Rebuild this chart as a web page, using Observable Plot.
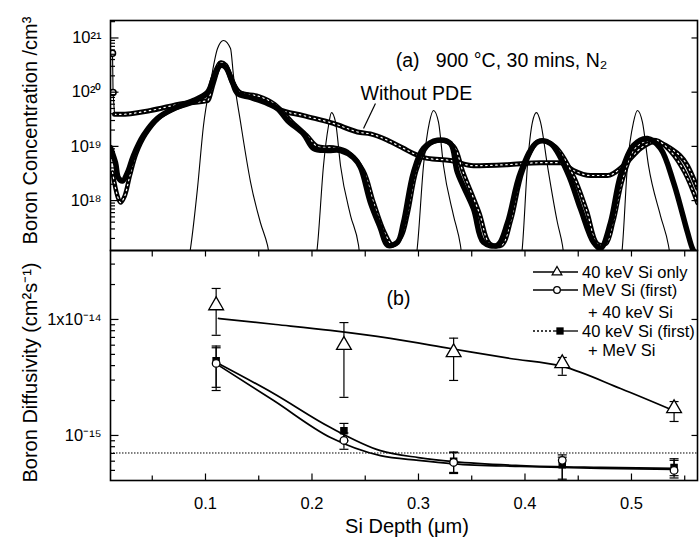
<!DOCTYPE html>
<html><head><meta charset="utf-8">
<script src="https://cdn.jsdelivr.net/npm/d3@7"></script>
<script src="https://cdn.jsdelivr.net/npm/@observablehq/plot@0.6"></script>
<style>
body{margin:0;background:#fff;}
#chart{position:relative;width:700px;height:548px;font-family:"Liberation Sans",Arial,sans-serif;background:#fff;}
#chart svg{display:block;overflow:visible;}
#legend{position:absolute;left:0;top:0;pointer-events:none;}
</style></head><body><div id="chart"></div>
<script>
// ---------- Panel (a): boron concentration profiles ----------
const implDepth = [0.080,0.0859,0.0925,0.0981,0.1047,0.1113,0.1169,0.1235,0.1263,0.1329,0.1423,0.1516,0.1582,0.163,
  0.200,0.2052,0.2108,0.2155,0.2183,0.2221,0.2268,0.2362,0.2437,0.248,
  0.294,0.2991,0.3047,0.3103,0.3141,0.3188,0.3235,0.3329,0.3394,0.344,
  0.393,0.3977,0.4023,0.4070,0.4108,0.4146,0.4211,0.4305,0.4352,0.440,
  0.487,0.4916,0.4962,0.5019,0.5056,0.5103,0.5160,0.5272,0.5347,0.540];
const implConc = [3e16,1.3e17,1.7e18,2.4e19,1.5e20,6.4e20,9.0e20,6.4e20,2.0e20,2.8e19,2.2e18,3.9e17,1.5e17,5e16,
  3e16,1.5e17,4.4e18,2.4e19,4.2e19,2.8e19,4.4e18,5.3e17,1.5e17,3e16,
  3e16,1.5e17,4.4e18,2.8e19,4.6e19,2.8e19,4.4e18,5.3e17,1.5e17,3e16,
  3e16,1.5e17,4.4e18,2.8e19,4.2e19,2.8e19,4.4e18,3.9e17,1.5e17,3e16,
  3e16,1.5e17,4.4e18,2.8e19,4.6e19,2.8e19,4.4e18,5.3e17,1.5e17,3e16];

const pdeDepth = [0.0108,0.0155,0.0183,0.0221,0.0268,0.0324,0.0418,0.0549,0.0700,0.0887,0.1019,0.1075,0.1141,0.1188,0.1254,0.1300,0.1423,0.1582,0.1676,0.1770,0.1920,0.2014,0.2146,0.2268,0.2390,0.2455,0.2549,0.2643,0.2709,0.2803,0.2859,0.2953,0.3047,0.3178,0.3300,0.3366,0.3516,0.3610,0.3742,0.3836,0.3958,0.4117,0.4239,0.4399,0.4521,0.4643,0.4709,0.4803,0.4897,0.5019,0.5150,0.5272,0.5394,0.5526,0.5573,0.5620];
const pdeConc = [9.5e18,5.0e18,2.6e18,2.3e18,3.3e18,6.8e18,1.6e19,3.3e19,5.0e19,7.0e19,9.9e19,1.8e20,3.1e20,2.9e20,1.5e20,9.5e19,8.0e19,6.2e19,5.0e19,3.0e19,1.7e19,9.2e18,8.4e18,8.4e18,6.2e18,4.1e18,9.2e17,3.1e17,1.5e17,1.7e17,3.9e17,3.3e18,9.2e18,1.3e19,1.13e19,3.3e18,7.1e17,1.7e17,1.5e17,3.9e17,3.3e18,1.2e19,1.13e19,3.3e18,7.1e17,1.7e17,1.3e17,3.9e17,2.9e18,1.04e19,1.4e19,9.2e18,2.2e18,2.6e17,1.3e17,9e16];

const pde2Depth = [0.0127,0.0174,0.0202,0.0240,0.0290,0.0350,0.0440,0.0560,0.0700,0.0887,0.1019,0.1075,0.1141,0.1188,0.1254,0.1320,0.1500,0.1650,0.1800,0.1950,0.2050,0.2200,0.2330,0.2480,0.2580,0.2680,0.2760,0.2840,0.2900,0.2980,0.3080,0.3200,0.3330,0.3420,0.3570,0.3670,0.3780,0.3870,0.3980,0.4130,0.4280,0.4450,0.4580,0.4680,0.4760,0.4830,0.4920,0.5050,0.5230,0.5370,0.5500,0.5620];
const pde2Conc = [3.3e18,1.2e18,9.2e17,1.2e18,2.9e18,7.4e18,1.7e19,3.3e19,4.8e19,6.6e19,9.5e19,2.0e20,3.5e20,3.2e20,1.6e20,1.0e20,8.4e19,6.0e19,3.0e19,1.6e19,1.0e19,9.5e18,8.0e18,3.6e18,9e17,2.6e17,1.5e17,2.2e17,6e17,3.6e18,1.0e19,1.3e19,1.0e19,3.3e18,6e17,1.6e17,1.5e17,4.5e17,3.6e18,1.25e19,1.0e19,3.0e18,6.5e17,1.6e17,1.6e17,4.2e17,2.6e18,1.0e19,1.3e19,8.0e18,3.3e18,9e17];

const noPdeDepth = [0.0146,0.0202,0.0484,0.0793,0.1019,0.1075,0.1141,0.1188,0.1254,0.1329,0.1516,0.1610,0.1676,0.1920,0.2201,0.2455,0.2549,0.2709,0.2859,0.2953,0.3085,0.3300,0.3516,0.3836,0.4146,0.4333,0.4455,0.4615,0.4775,0.4925,0.5085,0.5207,0.5366,0.5526,0.5620];
const noPdeConc = [3.9e19,3.9e19,4.6e19,6.2e19,7.0e19,1.5e20,3.4e20,3.1e20,1.5e20,9.5e19,7.8e19,6.2e19,5.0e19,3.7e19,2.65e19,1.8e19,1.7e19,1.3e19,9.2e18,7.4e18,6.0e18,5.5e18,4.4e18,4.6e18,5.0e18,5.0e18,3.6e18,2.9e18,2.9e18,4.4e18,9.2e18,1.2e19,9.2e18,4.4e18,1.7e18];

const surfDepth = [0.0127,0.0132,0.0146];
const surfConc = [5.2e20,9.9e19,3.9e19];

const concTicks = [1e18,1e19,1e20,1e21];
const concTickLabels = ["10¹⁸","10¹⁹","10²⁰","10²¹"];

// ---------- Panel (b): boron diffusivity ----------
const peakDepth = [0.11,0.23,0.333,0.435,0.54];
const dOnly   = [1.32e-14,6.0e-15,5.2e-15,4.18e-15,1.71e-15];
const dOnlyHi = [1.85e-14,9.4e-15,6.9e-15,4.7e-15,1.96e-15];
const dOnlyLo = [7.3e-15,2.13e-15,2.98e-15,3.3e-15,1.32e-15];
const dMeV    = [4.18e-15,9.06e-16,5.85e-16,6.1e-16,5.0e-16];
const dMeVHi  = [5.7e-15,1.05e-15,7.1e-16,6.5e-16,6.1e-16];
const dMeVLo  = [2.44e-15,7.6e-16,4.7e-16,4.2e-16,4.3e-16];
const dFirst  = [4.4e-15,1.1e-15,6.0e-16,5.6e-16,5.3e-16];
const dFirstHi= [5.9e-15,1.27e-15,7.2e-16,6.8e-16,6.3e-16];
const dFirstLo= [2.6e-15,9.0e-16,4.8e-16,4.1e-16,4.5e-16];

const fitOnlyDepth = [0.1122,0.166,0.2174,0.2737,0.330,0.386,0.4352,0.4897,0.5394];
const fitOnly = [1.02e-14,9.05e-15,8.04e-15,6.86e-15,5.62e-15,4.61e-15,3.94e-15,2.54e-15,1.64e-15];
const fitMeVDepth = [0.1094,0.164,0.2174,0.2643,0.300,0.333,0.396,0.471,0.540];
const fitMeV = [4.18e-15,2.0e-15,9.6e-16,6.7e-16,6.1e-16,5.7e-16,5.4e-16,5.2e-16,5.1e-16];
const fitFirstDepth = [0.1094,0.164,0.2174,0.2643,0.300,0.333,0.396,0.471,0.540];
const fitFirst = [4.3e-15,2.3e-15,1.17e-15,7.4e-16,6.45e-16,5.95e-16,5.5e-16,5.3e-16,5.2e-16];
const refLevel = [7.06e-16];

const diffTicks = [1e-14,1e-15];
const diffTickLabels = ["1x10⁻¹⁴","10⁻¹⁵"];
const depthTicks = [0.1,0.2,0.3,0.4,0.5];
const depthTickLabels = ["0.1","0.2","0.3","0.4","0.5"];
const depthMinor = [0.05,0.15,0.25,0.35,0.45,0.55];

const legendLabels = ["40 keV Si only","MeV Si (first)","+ 40 keV Si","40 keV Si (first)","+ MeV Si"];

// ---------- helpers ----------
const zip = (xs, ys) => xs.map((x, i) => ({x, y: ys[i]}));
const bars = (xs, v, lo, hi) => xs.map((x, i) => ({x, v: v[i], lo: lo[i], hi: hi[i]}));
const half = s => Math.sqrt(s / Math.PI);
const capSym = {draw(c, s){const r = half(s); c.moveTo(-r,0); c.lineTo(r,0);}};
const tickR = {draw(c, s){const r = half(s); c.moveTo(0,0); c.lineTo(r,0);}};
const tickL = {draw(c, s){const r = half(s); c.moveTo(0,0); c.lineTo(-r,0);}};
const tickU = {draw(c, s){const r = half(s); c.moveTo(0,0); c.lineTo(0,-r);}};
const tickD = {draw(c, s){const r = half(s); c.moveTo(0,0); c.lineTo(0,r);}};
const minorLog = (lo, hi) => { const out = []; for (let e = Math.floor(Math.log10(lo)); e <= Math.ceil(Math.log10(hi)); e++) for (let k = 2; k <= 9; k++) { const v = k * Math.pow(10, e); if (v >= lo && v <= hi) out.push(v); } return out; };

const FONT = '"Liberation Sans", Arial, sans-serif';
const xDomain = [0.0108, 0.562];
const concDomain = [1.2e17, 2.1e21];
const diffDomain = [4.09e-16, 3.93e-14];
const tk = {fill: "none", stroke: "black", strokeWidth: 1.2};

const topPlot = Plot.plot({
  width: 700, height: 250, marginTop: 20, marginBottom: 0, marginLeft: 110, marginRight: 3,
  style: {fontFamily: FONT, fontSize: "17px", color: "black", background: "transparent", overflow: "visible"},
  x: {domain: xDomain, axis: null},
  y: {type: "log", domain: concDomain},
  marks: [
    Plot.line(zip(implDepth, implConc), {x: "x", y: "y", stroke: "black", strokeWidth: 1.1, curve: "monotone-x", clip: true}),
    Plot.line(zip(noPdeDepth, noPdeConc), {x: "x", y: "y", stroke: "black", strokeWidth: 5, curve: "monotone-x", clip: true}),
    Plot.line(zip(noPdeDepth, noPdeConc), {x: "x", y: "y", stroke: "white", strokeWidth: 1.2, strokeDasharray: "1.5,3.5", curve: "monotone-x", clip: true}),
    Plot.line(zip(pde2Depth, pde2Conc), {x: "x", y: "y", stroke: "black", strokeWidth: 4.5, curve: "catmull-rom", clip: true}),
    Plot.line(zip(pde2Depth, pde2Conc), {x: "x", y: "y", stroke: "white", strokeWidth: 1.2, strokeDasharray: "1.5,3.5", curve: "catmull-rom", clip: true}),
    Plot.line(zip(pdeDepth, pdeConc), {x: "x", y: "y", stroke: "black", strokeWidth: 5.5, curve: "catmull-rom", clip: true}),
    Plot.line(zip(surfDepth, surfConc), {x: "x", y: "y", stroke: "black", strokeWidth: 1.1, clip: true}),
    Plot.dot(zip(surfDepth, surfConc).slice(0, 2), {x: "x", y: "y", r: 3, fill: "white", stroke: "black", clip: true}),
    Plot.frame({stroke: "black", strokeWidth: 1.6}),
    Plot.axisY({ticks: concTicks, tickSize: 0, tickPadding: 9, label: null, fontSize: 16.5, tickFormat: d => concTickLabels[concTicks.indexOf(d)]}),
    Plot.dot(concTicks, {y: d => d, frameAnchor: "left", symbol: tickR, r: 8, ...tk}),
    Plot.dot(minorLog(concDomain[0], concDomain[1]), {y: d => d, frameAnchor: "left", symbol: tickR, r: 4.5, ...tk}),
    Plot.dot(concTicks, {y: d => d, frameAnchor: "right", symbol: tickL, r: 6, ...tk}),
    Plot.text(["Boron Concentration /cm³"], {text: d => d, frameAnchor: "left", textAnchor: "middle", dx: -80, dy: -5, rotate: -90, fontSize: 20}),
    Plot.text([{x: 0.378, y: 3.8e20, t: "(a)\u00a0\u00a0\u00a0900 °C, 30 mins, N₂"}], {x: "x", y: "y", text: "t", fontSize: 19.5}),
    Plot.text([{x: 0.298, y: 9.5e19, t: "Without PDE"}], {x: "x", y: "y", text: "t", fontSize: 19.5}),
    Plot.link([{x1: 0.2596, y1: 6.2e19, x2: 0.2484, y2: 2.14e19}], {x1: "x1", y1: "y1", x2: "x2", y2: "y2", stroke: "black", strokeWidth: 1.2})
  ]
});

const cap = (rows, key) => Plot.dot(rows, {x: "x", y: key, symbol: capSym, r: 4.5, ...tk, clip: true});

const botPlot = Plot.plot({
  width: 700, height: 298, marginTop: 0, marginBottom: 68, marginLeft: 110, marginRight: 3,
  style: {fontFamily: FONT, fontSize: "17px", color: "black", background: "transparent", overflow: "visible"},
  x: {domain: xDomain},
  y: {type: "log", domain: diffDomain},
  marks: [
    Plot.ruleY(refLevel, {stroke: "black", strokeWidth: 1, strokeDasharray: "1.5,1.5"}),
    Plot.line(zip(fitOnlyDepth, fitOnly), {x: "x", y: "y", curve: "monotone-x", stroke: "black", strokeWidth: 1.7}),
    Plot.line(zip(fitMeVDepth, fitMeV), {x: "x", y: "y", curve: "monotone-x", stroke: "black", strokeWidth: 1.7}),
    Plot.line(zip(fitFirstDepth, fitFirst), {x: "x", y: "y", curve: "monotone-x", stroke: "black", strokeWidth: 1.7}),
    Plot.ruleX(bars(peakDepth, dOnly, dOnlyLo, dOnlyHi), {x: "x", y1: "lo", y2: "hi", strokeWidth: 1.2}),
    Plot.ruleX(bars(peakDepth, dMeV, dMeVLo, dMeVHi), {x: "x", y1: "lo", y2: "hi", strokeWidth: 1.2}),
    Plot.ruleX(bars(peakDepth, dFirst, dFirstLo, dFirstHi), {x: "x", y1: "lo", y2: "hi", strokeWidth: 1.2}),
    cap(bars(peakDepth, dOnly, dOnlyLo, dOnlyHi), "lo"), cap(bars(peakDepth, dOnly, dOnlyLo, dOnlyHi), "hi"),
    cap(bars(peakDepth, dMeV, dMeVLo, dMeVHi), "lo"), cap(bars(peakDepth, dMeV, dMeVLo, dMeVHi), "hi"),
    cap(bars(peakDepth, dFirst, dFirstLo, dFirstHi), "lo"), cap(bars(peakDepth, dFirst, dFirstLo, dFirstHi), "hi"),
    Plot.dot(zip(peakDepth, dFirst), {x: "x", y: "y", symbol: "square", r: 3.4, fill: "black", stroke: "black"}),
    Plot.dot(zip(peakDepth, dMeV), {x: "x", y: "y", symbol: "circle", r: 3.8, fill: "white", stroke: "black", strokeWidth: 1.3}),
    Plot.dot(zip(peakDepth, dOnly), {x: "x", y: "y", symbol: "triangle", r: 5.5, fill: "white", stroke: "black", strokeWidth: 1.3}),
    Plot.frame({stroke: "black", strokeWidth: 1.6}),
    Plot.axisY({ticks: diffTicks, tickSize: 0, tickPadding: 9, label: null, fontSize: 16.5, tickFormat: d => diffTickLabels[diffTicks.indexOf(d)]}),
    Plot.dot(diffTicks, {y: d => d, frameAnchor: "left", symbol: tickR, r: 8, ...tk}),
    Plot.dot(minorLog(diffDomain[0], diffDomain[1]), {y: d => d, frameAnchor: "left", symbol: tickR, r: 4.5, ...tk}),
    Plot.dot(diffTicks, {y: d => d, frameAnchor: "right", symbol: tickL, r: 6, ...tk}),
    Plot.axisX({ticks: depthTicks, tickSize: 0, tickPadding: 17, label: null, fontSize: 16.5, tickFormat: d => depthTickLabels[depthTicks.indexOf(d)]}),
    Plot.dot(depthTicks, {x: d => d, frameAnchor: "bottom", symbol: tickU, r: 7, ...tk}),
    Plot.dot(depthMinor, {x: d => d, frameAnchor: "bottom", symbol: tickU, r: 5, ...tk}),
    Plot.dot(depthTicks.concat(depthMinor), {x: d => d, frameAnchor: "top", symbol: tickD, r: 6, ...tk}),
    Plot.text(["Boron Diffusivity (cm²s⁻¹)"], {text: d => d, frameAnchor: "left", textAnchor: "middle", dx: -80, dy: 7, rotate: -90, fontSize: 20}),
    Plot.text(["Si Depth (μm)"], {text: d => d, frameAnchor: "bottom", dy: 52, dx: 3, fontSize: 20}),
    Plot.text([{x: 0.2812, y: 1.52e-14, t: "(b)"}], {x: "x", y: "y", text: "t", fontSize: 19.5})
  ]
});

const chart = document.getElementById("chart");
chart.appendChild(topPlot);
chart.appendChild(botPlot);

// legend for panel (b)
const lg = d3.select(chart).append("svg").attr("id", "legend").attr("width", 700).attr("height", 548)
  .style("font-family", FONT).style("font-size", "16.5px");
const rowsY = [272, 290, 312, 331, 350];
const textX = [582, 582, 588, 582, 588];
legendLabels.forEach((t, i) => {
  lg.append("text").attr("x", textX[i]).attr("y", rowsY[i]).attr("dy", "0.35em").text(t);
});
const g = lg.append("g").attr("stroke", "black").attr("stroke-width", 1.3);
g.append("line").attr("x1", 533).attr("x2", 578).attr("y1", rowsY[0]).attr("y2", rowsY[0]);
g.append("path").attr("d", d3.symbol(d3.symbolTriangle, 40)()).attr("transform", `translate(557,${rowsY[0]})`).attr("fill", "white");
g.append("line").attr("x1", 533).attr("x2", 578).attr("y1", rowsY[1]).attr("y2", rowsY[1]);
g.append("circle").attr("cx", 557).attr("cy", rowsY[1]).attr("r", 3.3).attr("fill", "white");
g.append("line").attr("x1", 533).attr("x2", 553).attr("y1", rowsY[3]).attr("y2", rowsY[3]).attr("stroke-dasharray", "2,2");
g.append("line").attr("x1", 553).attr("x2", 578).attr("y1", rowsY[3]).attr("y2", rowsY[3]);
g.append("rect").attr("x", 557).attr("y", rowsY[3] - 3).attr("width", 6).attr("height", 6).attr("fill", "black");
</script>
</body></html>
